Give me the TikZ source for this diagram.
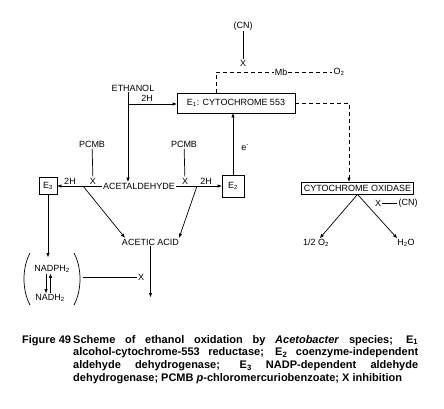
\documentclass[tikz,border=0pt]{standalone}
\usepackage{fontspec}
\setmainfont{Liberation Sans}
\usetikzlibrary{arrows.meta}

\tikzset{
  lbl/.style={font=\fontsize{9}{10}\selectfont, inner sep=1pt},
  enzbox/.style={draw, line width=0.8pt, lbl, inner sep=2.5pt},
  plain/.style={line width=0.7pt},
  flow/.style={plain, -{Triangle[length=4pt,width=3pt]}},
  resp/.style={plain, dash pattern=on 4pt off 3pt},
}

\begin{document}
\begin{tikzpicture}[x=1pt,y=-1pt]
\useasboundingbox (0,0) rectangle (444,408);
% respiratory chain
\node[lbl] (cntop) at (243,26) {(CN)};
\node[lbl] (xtop) at (243,63) {X};
\node[lbl] (mb) at (281,72) {Mb};
\node[lbl] (otwo) at (339,72) {O\textsubscript{2}};
\node[enzbox, minimum width=118pt, minimum height=20pt] (eone) at (236,103) {E\textsubscript{1}: CYTOCHROME 553};
\node[enzbox, inner xsep=2pt, minimum height=12pt] (cox) at (357.5,188) {CYTOCHROME OXIDASE};
\coordinate (mbturn) at (216,72);
\coordinate (oxturn) at (349,103);
\draw[plain] (cntop) -- (xtop);
\draw[resp] (eone.north -| mbturn) -- (mbturn) -- (mb);
\draw[resp] (mb) -- (otwo);
\draw[resp, -{Triangle[length=4pt,width=3pt]}] (eone.east) -- (oxturn) -- (oxturn |- cox.north);
\node[lbl] (halfox) at (316,243) {1/2 O\textsubscript{2}};
\node[lbl] (water) at (406,243) {H\textsubscript{2}O};
\draw[flow] (cox.south) -- ([xshift=4pt]halfox.north);
\draw[flow] (cox.south) -- ([xshift=-9pt]water.north);
\node[lbl] (xcox) at (378,203) {X};
\node[lbl] (cnox) at (408,203) {(CN)};
\draw[plain] (xcox) -- (cnox);
% ethanol and acetaldehyde
\node[lbl] (ethanol) at (133,88) {ETHANOL};
\coordinate (ethfork) at (128,104);
\node[lbl] (twohA) at (147,98) {2H};
\node[lbl] (acetal) at (139,186) {ACETALDEHYDE};
\draw[plain] (ethanol.south -| ethfork) -- (ethfork);
\draw[flow] (ethfork) -- (ethfork -| eone.west);
\draw[flow] (ethfork) -- (ethfork |- acetal.north);
\node[enzbox, minimum width=18pt, minimum height=17pt, inner sep=1pt] (ethree) at (48,186) {E\textsubscript{3}};
\node[enzbox, minimum width=22pt, minimum height=22pt, inner sep=1pt] (etwo) at (233,186) {E\textsubscript{2}};
\draw[flow] (acetal.west) -- (ethree.east);
\draw[flow] (acetal.east) -- (etwo.west);
\draw[flow] (etwo.north) -- (etwo.north |- eone.south);
\node[lbl] (elec) at (245,148) {e\textsuperscript{-}};
% inhibitors
\node[lbl] (twohB) at (70,181) {2H};
\node[lbl] (xleft) at (93,181) {X};
\node[lbl] (pcmbA) at (92,144) {PCMB};
\draw[plain] (pcmbA) -- (xleft);
\node[lbl] (xright) at (185,181) {X};
\node[lbl] (twohC) at (206,181) {2H};
\node[lbl] (pcmbB) at (184,144) {PCMB};
\draw[plain] (pcmbB) -- (xright);
% acetic acid
\node[lbl] (acetic) at (150.5,242) {ACETIC ACID};
\coordinate (forkL) at (83,186);
\coordinate (forkR) at (197,186);
\coordinate (aceticend) at (151,297);
\draw[flow] (forkL) -- ([xshift=4pt]acetic.north west);
\draw[flow] (forkR) -- ([xshift=-1pt]acetic.north east);
\draw[flow] (acetic.south) -- (acetic.south |- aceticend);
% NADP couple
\node[lbl] (nadph) at (52,269) {NADPH\textsubscript{2}};
\node[lbl] (nadh) at (50,298) {NADH\textsubscript{2}};
\coordinate (nadtop) at (48,257);
\coordinate (downx) at (46,0);
\coordinate (upx) at (50.5,0);
\draw[flow] (ethree.south) -- (nadtop);
\draw[plain] (30,253) .. controls (22,268) and (22,290) .. (30,305);
\draw[plain] (74,253) .. controls (82,268) and (82,290) .. (74,305);
\draw[flow] (downx |- nadph.south) -- (downx |- nadh.north);
\draw[flow] (upx |- nadh.north) -- (upx |- nadph.south);
\coordinate (parenR) at (83,277);
\node[lbl] (xnad) at (141,277) {X};
\draw[plain] (parenR) -- (xnad);
% caption
\node[anchor=north west, text width=396pt, inner sep=0pt, align=justify,
  font=\fontsize{11}{12.7}\selectfont\bfseries] (caption) at (22,335)
  {\hangindent=51pt\hangafter=1\noindent\makebox[51pt][l]{Figure 49}Scheme of ethanol oxidation by \textit{Acetobacter} species; E\textsubscript{1}\linebreak
  alcohol-cytochrome-553 reductase; E\textsubscript{2} coenzyme-independent\linebreak
  aldehyde dehydrogenase; E\textsubscript{3} NADP-dependent aldehyde\linebreak
  dehydrogenase; PCMB \textit{p}-chloromercuriobenzoate; X inhibition\par};
\end{tikzpicture}
\end{document}
